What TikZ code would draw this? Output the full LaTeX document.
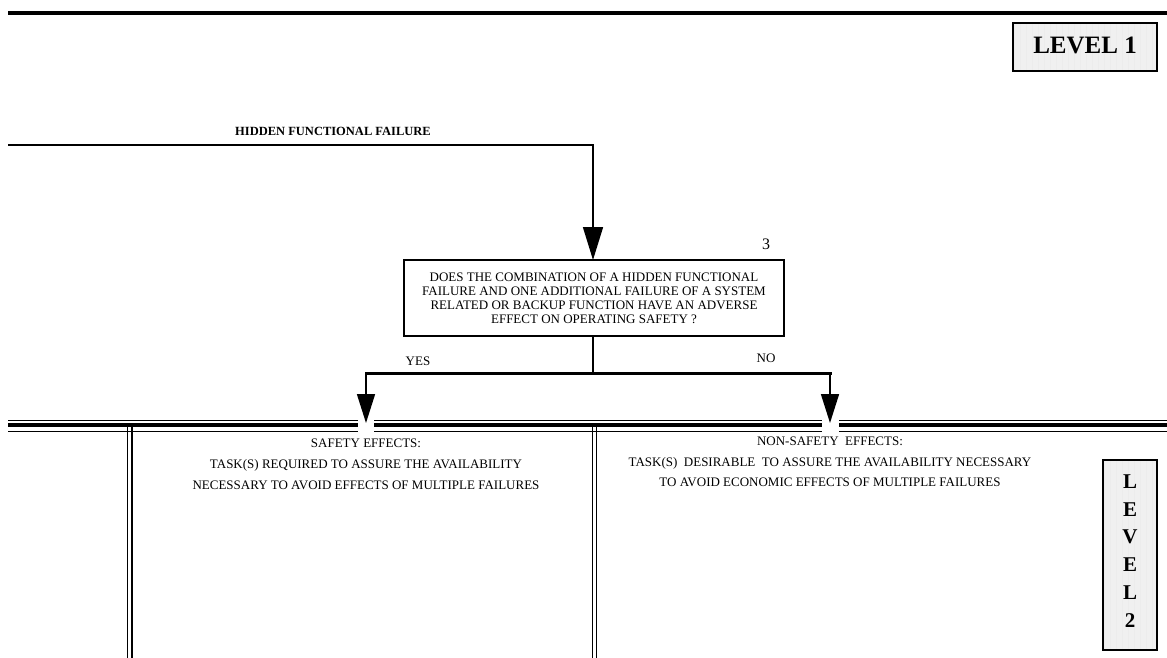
\documentclass[tikz,border=0pt]{standalone}
\usepackage{fontspec}
\setmainfont{Liberation Serif}
\usetikzlibrary{arrows.meta}
\begin{document}
\begin{tikzpicture}[x=1pt,y=-1pt,
  txt/.style={inner sep=0pt, font=\fontsize{13}{14}\selectfont},
  bigtip/.style={-{Triangle[width=20pt,length=33pt]}},
  tip/.style={-{Triangle[width=18pt,length=29pt]}},
  flow/.style={line width=1.6pt},
  levelbox/.style={draw=black, line width=2pt},
  qbox/.style={draw=black, line width=1.8pt, minimum width=380pt, minimum height=76pt,
    align=center, inner sep=0pt, font=\fontsize{13}{14}\selectfont},
  sep/.style={line width=1.7pt}
]
\useasboundingbox (0,0) rectangle (1167,658);

% heading rule
\draw[line width=4.5pt] (8,13) -- (1167,13);

% LEVEL 1 plate
\begin{scope}
  \clip (1013,23) rectangle (1157,71);
  \fill[gray!12] (1013,23) rectangle (1157,71);
  \draw[white!85!gray, line width=0.5pt, step=6] (1013,23) grid (1157,71);
\end{scope}
\draw[levelbox] (1013,23) rectangle (1157,71);
\node[inner sep=0pt, font=\fontsize{25}{25}\bfseries\selectfont] (lv1) at (1085,45) {LEVEL 1};

% incoming branch
\node[txt, font=\fontsize{12.5}{13}\bfseries\selectfont] (hff) at (333,131) {HIDDEN FUNCTIONAL FAILURE};
\coordinate (hin) at (8,145);

% question 3
\node[qbox] (q3) at (594,298) {DOES THE COMBINATION OF A HIDDEN FUNCTIONAL\\FAILURE AND ONE ADDITIONAL FAILURE OF A SYSTEM\\RELATED OR BACKUP FUNCTION HAVE AN ADVERSE\\EFFECT ON OPERATING SAFETY ?};
\node[inner sep=0pt, font=\fontsize{16}{16}\selectfont] (n3) at (766,244) {3};

\draw[flow, bigtip] (hin) -- (593,145) -- (593,260);

% yes / no split
\coordinate (split) at (593,373);
\coordinate (ly) at (366,373);
\coordinate (ln) at (830,373);
\draw[line width=2pt] (q3.south -| split) -- (split);
\draw[line width=3pt, line cap=rect] (ly) -- (ln);
\node[txt] (yes) at (418,361) {YES};
\node[txt] (no) at (766,358) {NO};

% level separator: thin / thick / thin rules
\draw[line width=1.2pt] (8,420.5) -- (1167,420.5);
\draw[line width=4pt] (8,425.3) -- (1167,425.3);
\draw[line width=1.2pt] (8,431.3) -- (1167,431.3);

% column separators
\draw[sep] (127.6,427) -- (127.6,658);
\draw[sep] (131.8,427) -- (131.8,658);
\draw[sep] (592.4,427) -- (592.4,658);
\draw[sep] (596.6,427) -- (596.6,658);

% gaps in the separator where the arrows pass
\fill[white] (358,418) rectangle (374,433);
\fill[white] (822,418) rectangle (839,433);

\coordinate (ty) at (366,423);
\coordinate (tn) at (830,423);
\draw[flow, tip] (ly) -- (ty);
\draw[flow, tip] (ln) -- (tn);

% level 2 outcomes
\node[txt, align=center, font=\fontsize{13}{21}\selectfont] (saf) at (366,464)
  {SAFETY EFFECTS:\\TASK(S) REQUIRED TO ASSURE THE AVAILABILITY\\NECESSARY TO AVOID EFFECTS OF MULTIPLE FAILURES};
\node[txt, align=center, font=\fontsize{13}{20.5}\selectfont] (nsaf) at (830,462)
  {NON-SAFETY\ \ EFFECTS:\\TASK(S)\ \ DESIRABLE\ \ TO ASSURE THE AVAILABILITY NECESSARY\\TO AVOID ECONOMIC EFFECTS OF MULTIPLE FAILURES};

% LEVEL 2 plate
\begin{scope}
  \clip (1103,460) rectangle (1157,650);
  \fill[gray!12] (1103,460) rectangle (1157,650);
  \draw[white!85!gray, line width=0.5pt, step=6] (1103,460) grid (1157,650);
\end{scope}
\draw[levelbox] (1103,460) rectangle (1157,650);
\node[inner sep=0pt, align=center, font=\fontsize{21}{27.8}\bfseries\selectfont] (lv2) at (1130,551)
  {L\\E\\V\\E\\L\\2};
\end{tikzpicture}
\end{document}
